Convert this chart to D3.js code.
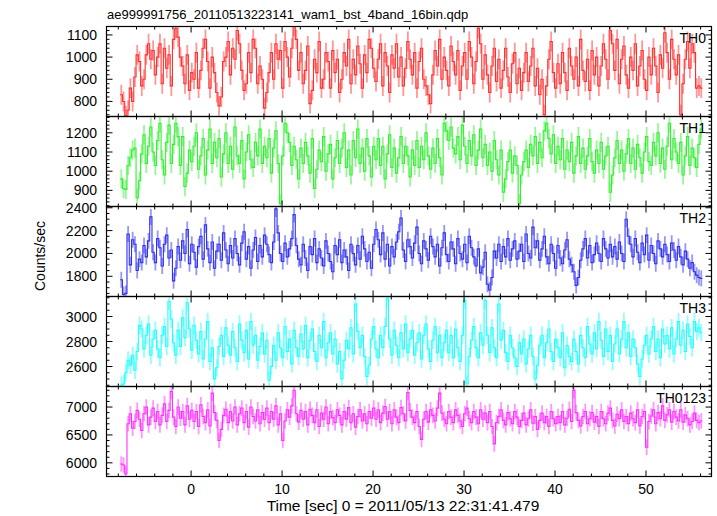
<!DOCTYPE html>
<html>
<head>
<meta charset="utf-8">
<script src="https://cdn.jsdelivr.net/npm/d3@7"></script>
<style>
  html, body { margin: 0; padding: 0; background: #fff; }
  svg { display: block; }
  text { font-family: "Liberation Sans", Arial, Helvetica, sans-serif; fill: #000; }
</style>
</head>
<body>
<div id="chart"></div>
<script>
// ---------------- data ----------------
const titleText = "ae999991756_20110513223141_wam1_bst_4band_16bin.qdp";
const xLabelText = "Time [sec] 0 = 2011/05/13 22:31:41.479";
const yLabelText = "Counts/sec";
const panelNames = ["TH0", "TH1", "TH2", "TH3", "TH0123"];
const timeStart = -7.8;   // start of first bin [sec]
const binWidth = 0.25;    // bin width [sec]
const xDomain = [-9.3, 57.2];
const xMajorTicks = [0, 10, 20, 30, 40, 50];
const xMinorStep = 2;
const yDomains = [[732, 1138], [816, 1285], [1623, 2411], [2440, 3160], [5755, 7368]];
const yMajorTicks = [
  [800, 900, 1000, 1100],
  [900, 1000, 1100, 1200],
  [1800, 2000, 2200, 2400],
  [2600, 2800, 3000],
  [6000, 6500, 7000]
];
const yMinorStep = [20, 20, 50, 50, 100];
const errors = [45, 50, 70, 70, 140];

const th0 = [
  830, 800, 735, 760, 860, 800, 910, 1010, 980, 870, 900, 1010, 1060, 990, 1030, 920,
  1000, 1060, 880, 1040, 950, 1010, 870, 1080, 1130, 1090, 1000, 960, 880, 1010, 850, 930,
  900, 1020, 860, 940, 1040, 1080, 980, 860, 1000, 930, 840, 780, 820, 980, 1000, 1070,
  920, 1040, 990, 1120, 1060, 940, 850, 880, 1020, 930, 1080, 1040, 880, 960, 900, 770,
  840, 930, 1020, 900, 1060, 990, 1030, 860, 1070, 1000, 910, 1040, 1140, 1080, 940, 1020,
  880, 940, 1050, 790, 850, 990, 930, 1070, 860, 900, 1020, 980, 860, 1030, 930, 990,
  840, 900, 1020, 960, 1080, 880, 990, 920, 1050, 970, 860, 1010, 930, 1080, 1040, 950,
  890, 990, 1060, 870, 1020, 960, 840, 1010, 950, 1060, 910, 1000, 870, 950, 1070, 990,
  920, 1020, 860, 980, 1040, 900, 870, 830, 790, 920, 1030, 960, 1080, 900, 1000, 940,
  870, 1050, 980, 920, 1030, 850, 960, 1020, 900, 1070, 1000, 880, 980, 1130, 1060, 900,
  1010, 920, 840, 960, 1040, 890, 990, 860, 940, 1040, 910, 840, 970, 1020, 880, 950,
  850, 930, 1020, 890, 960, 1040, 870, 950, 830, 900, 740, 870, 990, 1070, 930, 860,
  970, 880, 1020, 930, 850, 1040, 960, 900, 1000, 870, 1080, 940, 890, 990, 850, 1030,
  920, 1000, 870, 960, 1060, 990, 900, 1120, 1060, 940, 1080, 880, 990, 1050, 920, 860,
  1000, 940, 1060, 870, 960, 1030, 900, 850, 1000, 920, 1040, 960, 840, 1010, 950, 1110,
  1020, 900, 1080, 990, 920, 1010, 740, 880, 990, 1070, 950, 1060, 1020, 860, 870, 860
];
const th1 = [
  960, 910, 905, 1030, 1070, 1110, 1120, 860, 950, 1090, 1190, 1040, 1130, 1230, 1100, 1030,
  1160, 1250, 1060, 980, 1150, 1240, 1040, 1140, 1250, 1180, 1030, 1180, 920, 990, 1110, 1050,
  1130, 1200, 1010, 1080, 1170, 980, 1110, 1220, 1040, 1150, 1070, 1170, 970, 1090, 1200, 1040,
  1130, 1010, 1230, 1080, 1040, 1160, 960, 1100, 1190, 1060, 1020, 1150, 1080, 1220, 1040, 1130,
  1070, 1170, 990, 1120, 1210, 1040, 830, 1080, 1250, 1200, 1150, 1030, 1130, 1060, 960, 1120,
  1040, 1150, 1080, 990, 1170, 910, 1010, 1110, 1050, 1180, 1000, 1090, 1140, 960, 1070, 1160,
  1040, 1120, 1200, 1020, 1110, 980, 1160, 1070, 1220, 1040, 1120, 1000, 1170, 1080, 970, 1130,
  1060, 1170, 1030, 1130, 960, 1090, 1190, 1020, 1120, 990, 1070, 1180, 1040, 1130, 1080, 970,
  1110, 1030, 1160, 1020, 1130, 1060, 1200, 1080, 1010, 1120, 1040, 1170, 1070, 980, 1250, 1210,
  1160, 1230, 1120, 1090, 1180, 1060, 1240, 1130, 1040, 1160, 1080, 1190, 1030, 1110, 1220, 1070,
  1140, 1030, 1100, 1000, 1160, 1060, 980, 1110, 890, 960, 1050, 1110, 990, 1080, 1030, 830,
  980, 1050, 1110, 1020, 1140, 1080, 1180, 1040, 1150, 1070, 1210, 1250, 1170, 1090, 1190, 1040,
  1130, 1060, 1170, 1010, 1110, 1050, 1150, 990, 1080, 1180, 1040, 1120, 1010, 1080, 1170, 1050,
  990, 1110, 1040, 1150, 1010, 1080, 1130, 890, 980, 1070, 1160, 1040, 1110, 1000, 1090, 1170,
  1040, 1120, 1010, 1140, 1070, 990, 1100, 1180, 1050, 1030, 1150, 1080, 1200, 1040, 1120, 1010,
  1130, 1250, 1060, 1170, 1100, 1040, 1150, 980, 1080, 1180, 1030, 1120, 1070, 1020, 1140, 1220
];
const th2 = [
  1770, 1640, 1650, 2170, 1900, 2120, 2080, 1850, 1950, 1920, 2070, 1970, 2110, 2320, 2010, 1920,
  2130, 2050, 1890, 2080, 2160, 1960, 2030, 1760, 1870, 2060, 1940, 2110, 2000, 2210, 1910, 2080,
  2010, 1880, 2060, 2150, 1950, 2250, 2040, 1920, 2100, 1870, 2020, 2080, 1940, 2180, 2030, 1910,
  2070, 1960, 2130, 2000, 1900, 2090, 2190, 1950, 2060, 1870, 2030, 2140, 1930, 2070, 1970, 2160,
  2080, 1990, 1920, 2100, 2390, 2180, 2000, 1930, 2090, 1970, 2040, 2130, 2340, 2070, 1950, 1900,
  2080, 1960, 1850, 2060, 1990, 2130, 1920, 2040, 1960, 1890, 2110, 2000, 1930, 1840, 2070, 1990,
  2120, 1920, 2030, 1970, 1850, 2080, 2000, 1900, 2070, 1950, 2150, 2040, 1930, 2010, 1870, 2080,
  2210, 2120, 1990, 2180, 1950, 2080, 1890, 2060, 1970, 2100, 2190, 2310, 2030, 1930, 2120, 2060,
  1960, 2090, 2230, 2000, 1910, 2110, 2040, 1940, 2150, 2060, 1970, 2080, 1890, 2050, 2180, 1990,
  1930, 2100, 2040, 1910, 2130, 2000, 1950, 2080, 1920, 2150, 2050, 1970, 1890, 2040, 1830, 1880,
  2010, 1730, 1680, 1790, 2020, 1960, 2080, 1930, 2060, 1970, 2130, 1940, 2040, 2110, 1950, 2020,
  2080, 1930, 2170, 2000, 1960, 2230, 2050, 2110, 1940, 2040, 2150, 1970, 1910, 2080, 2000, 1870,
  2070, 1960, 1910, 2030, 2120, 1950, 1900, 1840, 1720, 1790, 1940, 2040, 2130, 1960, 2070, 1920,
  1990, 2090, 2000, 1930, 2130, 2040, 1960, 2080, 1970, 2060, 1950, 2100, 2000, 1930, 2300, 2150,
  2080, 1970, 2130, 2010, 1920, 2090, 1990, 2160, 1940, 2070, 2000, 1910, 2110, 2040, 1970, 2080,
  1990, 1930, 2090, 2030, 1940, 2060, 1970, 1900, 2020, 1950, 1870, 1920, 1840, 1810, 1790, 1780
];
const th3 = [
  2450, 2460, 2550, 2650, 2610, 2690, 2570, 2720, 2930, 2900, 2740, 2850, 2940, 2690, 2820, 2890,
  2740, 2670, 2850, 2920, 2760, 3120, 2980, 2790, 2690, 2890, 2760, 2990, 2830, 3110, 2900, 2730,
  2930, 2810, 2700, 2880, 2660, 2820, 2960, 2640, 2750, 2500, 2590, 2760, 2850, 2680, 2910, 2770,
  2690, 2880, 2750, 2640, 2940, 2810, 2710, 2890, 2660, 2960, 2770, 2850, 2650, 2760, 2870, 2700,
  2810, 2490, 2600, 2770, 2650, 2870, 2750, 2670, 2920, 2720, 2820, 2620, 2890, 2750, 2680, 2860,
  2740, 2930, 2670, 2810, 2900, 2720, 2640, 2850, 2750, 2960, 2670, 2790, 2870, 2700, 2820, 2620,
  2720, 2500, 2650, 2810, 2740, 2910, 2700, 3100, 2880, 2750, 2850, 2680, 2520, 2610, 2820, 2920,
  2740, 2670, 2850, 2750, 2920, 3150, 2820, 2690, 2890, 2770, 2670, 2870, 2740, 2940, 2710, 2820,
  2890, 2690, 2790, 2870, 2660, 2850, 2940, 2740, 2640, 2810, 2920, 2710, 2850, 2670, 2790, 2890,
  2710, 2850, 2670, 2900, 2750, 2640, 2850, 3130, 2460, 2680, 2810, 2920, 2750, 2670, 2870, 2770,
  3130, 2850, 2710, 2910, 2750, 2670, 3100, 2810, 2890, 2710, 2640, 2850, 2750, 2670, 2600, 2790,
  2700, 2820, 2620, 2740, 2850, 2680, 2500, 2610, 2770, 2850, 2670, 2790, 2900, 2720, 2640, 2820,
  2750, 2670, 2870, 2590, 2770, 2680, 2640, 2820, 2720, 2620, 2850, 2750, 2670, 2920, 2780, 2700,
  2870, 2740, 2960, 2810, 2680, 2900, 2720, 2850, 2640, 2780, 2900, 2700, 2820, 2960, 2750, 2870,
  2680, 2820, 2750, 2620, 2520, 2660, 2770, 2850, 2700, 2820, 2920, 2720, 2820, 2670, 2900, 2780,
  2850, 2740, 2910, 2700, 2820, 2960, 2770, 2890, 2720, 2940, 2840, 2750, 2960, 2880, 2910, 2870
];
const th0123 = [
  5980, 5960, 5800, 6700, 6880, 6620, 6740, 6940, 6780, 6580, 6880, 7000, 6680, 6820, 6980, 6740,
  6920, 6680, 6850, 7060, 6740, 6940, 7280, 6820, 6650, 7000, 6800, 6920, 6680, 7020, 6780, 6940,
  6740, 6920, 6650, 7040, 6830, 6720, 6950, 6660, 7250, 6900, 6760, 6400, 6600, 6850, 6960, 6720,
  6920, 6750, 7000, 6680, 6880, 6980, 6720, 6920, 6640, 7000, 6830, 6750, 6950, 6700, 6900, 6780,
  6980, 6720, 6920, 6780, 7020, 6680, 6880, 6400, 6750, 6950, 6820, 7020, 7300, 6880, 6730, 6940,
  6780, 6920, 6680, 6960, 6850, 6720, 6950, 6650, 6890, 6780, 7000, 6700, 6920, 6810, 6720, 6950,
  6850, 6680, 6920, 6780, 6990, 6720, 6880, 6640, 6830, 6950, 6750, 6880, 6700, 6920, 6800, 6980,
  6780, 6950, 6720, 6890, 7010, 6780, 6920, 6700, 6950, 6820, 6720, 6990, 6880, 6750, 7260, 6940,
  6820, 6720, 6920, 6650, 6420, 6780, 6920, 6730, 6950, 6850, 6750, 6980, 7250, 6890, 6780, 6700,
  6920, 6820, 6720, 6950, 6850, 6750, 6650, 6880, 6980, 6790, 6720, 6920, 6820, 6700, 6950, 6780,
  6890, 6720, 6920, 6650, 6340, 6720, 6830, 6950, 6760, 6680, 6900, 6790, 6700, 6920, 6820, 6650,
  6760, 6890, 6680, 6790, 6950, 6710, 6830, 6600, 6760, 6890, 6720, 6830, 6650, 6920, 6790, 6700,
  6830, 6720, 6920, 6680, 6800, 6960, 6740, 7300, 6900, 6760, 6660, 6830, 6920, 6700, 6790, 6900,
  6730, 6830, 6650, 6920, 6790, 6700, 6890, 6980, 6760, 6660, 6870, 6790, 6950, 6740, 6830, 6700,
  6890, 6790, 6720, 6950, 6660, 6830, 6920, 6280, 6740, 6840, 6950, 6700, 6900, 6790, 7020, 6760,
  6860, 6950, 6730, 6920, 6820, 6750, 6950, 6730, 6860, 6790, 6680, 6740, 6890, 6760, 6720, 6750
];
const seriesValues = [th0, th1, th2, th3, th0123];
const seriesColors = ["#ff3030", "#30f030", "#3030f0", "#20ffff", "#ff30ff"];

// ---------------- layout ----------------
const W = 717, H = 516;
const plotLeft = 106.5, plotRight = 711.5, plotTop = 26.5, panelH = 90;
const nPanels = seriesValues.length;

const svg = d3.select("#chart").append("svg").attr("width", W).attr("height", H);

const x = d3.scaleLinear().domain(xDomain).range([plotLeft, plotRight]);

svg.append("text").attr("x", 107).attr("y", 19).attr("font-size", 13).text(titleText);

const xMinor = d3.range(Math.ceil(xDomain[0] / xMinorStep) * xMinorStep, xDomain[1], xMinorStep);

seriesValues.forEach((vals, k) => {
  const pTop = plotTop + k * panelH, pBot = pTop + panelH;
  const y = d3.scaleLinear().domain(yDomains[k]).range([pBot, pTop]);
  const g = svg.append("g");
  const clipId = "clip" + k;
  svg.append("clipPath").attr("id", clipId).append("rect")
    .attr("x", plotLeft).attr("y", pTop).attr("width", plotRight - plotLeft).attr("height", panelH);
  const dg = g.append("g").attr("clip-path", `url(#${clipId})`);
  const col = seriesColors[k];
  const e = errors[k];

  // error bars
  dg.selectAll("line.err").data(vals).join("line").attr("class", "err")
    .attr("x1", (v, i) => x(timeStart + binWidth * (i + 0.5)))
    .attr("x2", (v, i) => x(timeStart + binWidth * (i + 0.5)))
    .attr("y1", v => y(v - e)).attr("y2", v => y(v + e))
    .attr("stroke", col).attr("stroke-opacity", 0.5).attr("stroke-width", 1.8);

  // step histogram line
  const pts = vals.map((v, i) => [timeStart + binWidth * i, v]);
  pts.push([timeStart + binWidth * vals.length, vals[vals.length - 1]]);
  dg.append("path").datum(pts)
    .attr("d", d3.line().x(d => x(d[0])).y(d => y(d[1])).curve(d3.curveStepAfter))
    .attr("fill", "none").attr("stroke", col).attr("stroke-width", 1.1);

  // frame
  g.append("rect").attr("x", plotLeft).attr("y", pTop).attr("width", plotRight - plotLeft).attr("height", panelH)
    .attr("fill", "none").attr("stroke", "#000").attr("stroke-width", 1.2);

  // x ticks (top and bottom, inward)
  const tk = g.append("g").attr("stroke", "#000").attr("stroke-width", 1);
  xMinor.forEach(t => {
    const major = xMajorTicks.includes(t) || t % 10 === 0;
    const len = major ? 6 : 3;
    tk.append("line").attr("x1", x(t)).attr("x2", x(t)).attr("y1", pBot).attr("y2", pBot - len);
    tk.append("line").attr("x1", x(t)).attr("x2", x(t)).attr("y1", pTop).attr("y2", pTop + len);
  });
  // y ticks (left and right, inward)
  const st = yMinorStep[k];
  const yMinor = d3.range(Math.ceil(yDomains[k][0] / st) * st, yDomains[k][1] + 0.001, st);
  yMinor.forEach(v => {
    const major = yMajorTicks[k].includes(v);
    const len = major ? 6 : 3;
    tk.append("line").attr("x1", plotLeft).attr("x2", plotLeft + len).attr("y1", y(v)).attr("y2", y(v));
    tk.append("line").attr("x1", plotRight).attr("x2", plotRight - len).attr("y1", y(v)).attr("y2", y(v));
  });
  // y labels
  g.selectAll("text.yl").data(yMajorTicks[k]).join("text").attr("class", "yl")
    .attr("x", 97).attr("y", v => y(v)).attr("dy", "0.36em")
    .attr("text-anchor", "end").attr("font-size", 14).text(d => d);
  // panel label
  g.append("text").attr("x", 706).attr("y", pTop + 16).attr("text-anchor", "end")
    .attr("font-size", 14).text(panelNames[k]);

  if (k === nPanels - 1) {
    g.selectAll("text.xl").data(xMajorTicks).join("text").attr("class", "xl")
      .attr("x", t => x(t)).attr("y", pBot + 17).attr("text-anchor", "middle")
      .attr("font-size", 14).text(d => d);
  }
});

svg.append("text").attr("x", 403).attr("y", 511).attr("text-anchor", "middle")
  .attr("font-size", 15.5).text(xLabelText);
svg.append("text").attr("transform", "translate(45,256) rotate(-90)")
  .attr("text-anchor", "middle").attr("font-size", 14).text(yLabelText);
</script>
</body>
</html>
